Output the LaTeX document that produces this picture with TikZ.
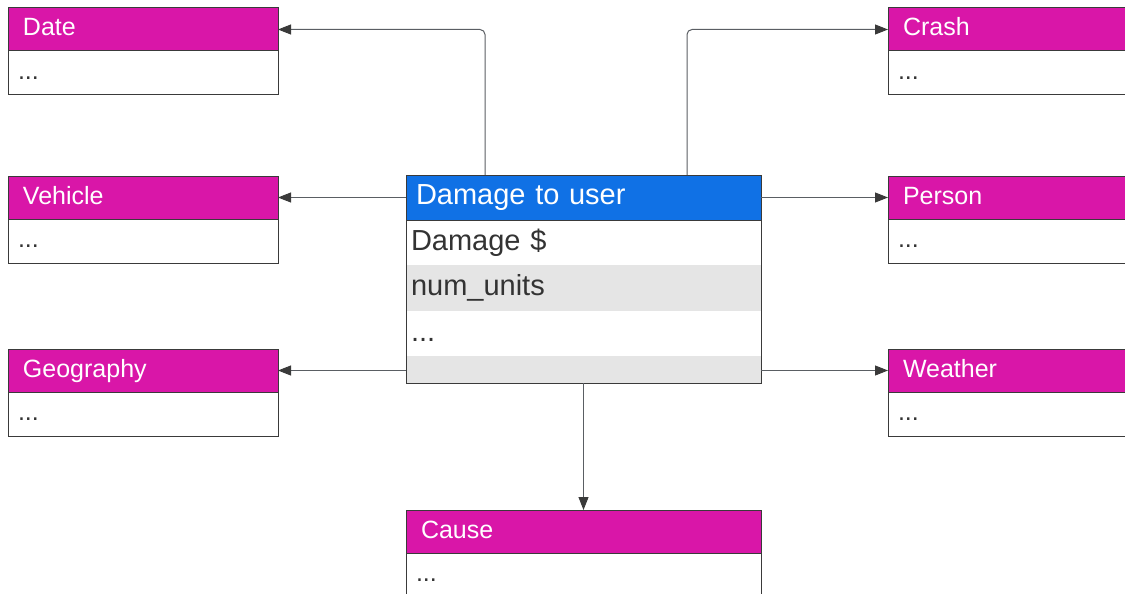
\documentclass[tikz,border=0pt]{standalone}
\usepackage{fontspec}
\setmainfont{Liberation Sans}
\usetikzlibrary{arrows.meta}

\definecolor{hdrpink}{HTML}{D916A8}
\definecolor{hdrblue}{HTML}{1071E5}
\definecolor{rowgrey}{HTML}{E5E5E5}
\definecolor{edgegrey}{HTML}{3A3A3A}
\definecolor{txtgrey}{HTML}{333333}
\definecolor{linkgrey}{HTML}{5A5E63}

\tikzset{every picture/.style={line width=1pt}}
\tikzset{
	tblhead/.style={draw=edgegrey, fill=hdrpink, text=white, anchor=north west, outer sep=0pt,
		minimum height=43pt, text width=240pt, inner xsep=15pt, inner ysep=0pt,
		text height=18pt, text depth=5pt, font=\fontsize{25}{30}\selectfont},
	tblbody/.style={draw=edgegrey, fill=white, text=txtgrey, anchor=north west, outer sep=0pt,
		minimum height=44pt, text width=250pt, inner xsep=10pt, inner ysep=0pt,
		text height=18pt, text depth=5pt, font=\fontsize{25}{30}\selectfont},
	facthead/.style={tblhead, fill=hdrblue, draw=edgegrey, text width=335pt,
		inner xsep=10pt, minimum height=45pt, text height=21pt, text depth=8pt,
		font=\fontsize{29}{34}\selectfont},
	factrow/.style={anchor=north west, outer sep=0pt, text=txtgrey, text width=345pt, inner xsep=5pt,
		inner ysep=0pt, text height=21pt, text depth=6pt, font=\fontsize{29}{34}\selectfont},
	link/.style={draw=linkgrey, -{Triangle[length=13pt,width=10pt,color=edgegrey]}, rounded corners=5pt}
}

\begin{document}
\begin{tikzpicture}[x=1pt,y=1pt,yscale=-1,xscale=1]
	\useasboundingbox (0,0) rectangle (1125,594);
	\clip (0,0) rectangle (1125,594);
	
	% fact table
	\node[facthead] (dmg) at (406,175) {Damage to user};
	\node[factrow, minimum height=45pt] (row1) at (dmg.south west) {Damage \$};
	\node[factrow, fill=rowgrey, minimum height=46pt] (row2) at (row1.south west) {num\_units};
	\node[factrow, minimum height=45pt] (row3) at (row2.south west) {...};
	\node[factrow, fill=rowgrey, minimum height=27pt] (row4) at (row3.south west) {};
	\draw[edgegrey] (dmg.north west) rectangle (row4.south east);
	\draw[edgegrey] (dmg.south west) -- (dmg.south east);
	
	% left dimensions
	\node[tblhead] (date) at (8,8) {Date};
	\node[tblbody] (dateb) at (date.south west) {...};
	\node[tblhead] (veh) at (8,176) {Vehicle};
	\node[tblbody] (vehb) at (veh.south west) {...};
	\node[tblhead] (geo) at (8,349) {Geography};
	\node[tblbody] (geob) at (geo.south west) {...};
	
	% right dimensions
	\node[tblhead] (crash) at (888,8) {Crash};
	\node[tblbody] (crashb) at (crash.south west) {...};
	\node[tblhead] (per) at (888,176) {Person};
	\node[tblbody] (perb) at (per.south west) {...};
	\node[tblhead] (wea) at (888,349) {Weather};
	\node[tblbody] (weab) at (wea.south west) {...};
	
	% bottom dimension
	\node[tblhead, text width=325pt] (cause) at (406,510) {Cause};
	\node[tblbody, text width=335pt] (causeb) at (cause.south west) {...};
	
	% links
	\draw[link] ([xshift=-98.5pt]dmg.north) |- (date.east);
	\draw[link] ([xshift=103.5pt]dmg.north) |- (crash.west);
	\draw[link] (dmg.west) -- (veh.east);
	\draw[link] (dmg.east) -- (per.west);
	\draw[link] (geo.east -| row4.west) -- (geo.east);
	\draw[link] (wea.west -| row4.east) -- (wea.west);
	\draw[link] (row4.south) -- (cause.north);
\end{tikzpicture}
\end{document}
